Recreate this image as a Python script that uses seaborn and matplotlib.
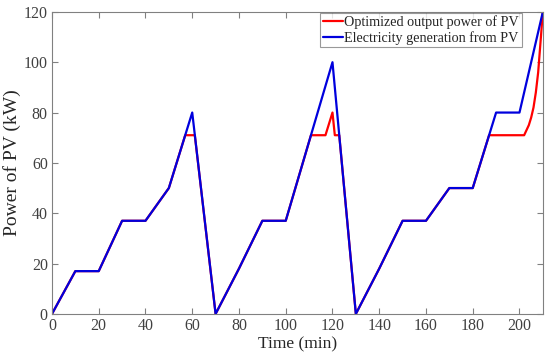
import pandas as pd
import matplotlib
matplotlib.use("Agg")
import matplotlib.pyplot as plt
import seaborn as sns

# PV generation (blue)
gen_time = [0, 10, 20, 30, 40, 50, 60, 70, 80, 90, 100, 120, 130, 140, 150, 160, 170, 180, 190, 200, 210]
gen_power = [0, 17, 17, 37, 37, 50, 80, 0, 18, 37, 37, 100, 0, 18, 37, 37, 50, 50, 80, 80, 120]

# optimized output (red)
opt_time = [0, 10, 20, 30, 40, 50, 57, 61.1, 70, 80, 90, 100, 110.8, 117, 120, 121, 122.9, 130,
            140, 150, 160, 170, 180, 187, 202, 204, 205, 206, 207, 208, 209, 210]
opt_power = [0, 17, 17, 37, 37, 50, 71, 71, 0, 18, 37, 37, 71, 71, 80, 71, 71, 0,
             18, 37, 37, 50, 50, 71, 71, 75, 78, 82, 88, 96, 108, 120]

opt_label = 'Optimized output power of PV'
gen_label = 'Electricity generation from PV'

df_opt = pd.DataFrame({'Time': opt_time, 'Power': opt_power})
df_gen = pd.DataFrame({'Time': gen_time, 'Power': gen_power})

sns.set_style("white")
plt.rcParams['font.family'] = ['Liberation Serif', 'DejaVu Serif']

fig = plt.figure(figsize=(5.5, 3.6), dpi=100)
ax = fig.add_axes([0.0945, 0.128, 0.8925, 0.839])

sns.lineplot(data=df_opt, x='Time', y='Power', color='#ff0000', linewidth=1.6,
             estimator=None, label=opt_label, ax=ax)
sns.lineplot(data=df_gen, x='Time', y='Power', color='#0000dd', linewidth=1.6,
             estimator=None, label=gen_label, ax=ax)

ax.set_xlim(0, 210)
ax.set_ylim(0, 120)
ax.set_xticks(range(0, 201, 20))
ax.set_yticks(range(0, 121, 20))
ax.set_xlabel('Time (min)', fontsize=12.5, color='#262626', labelpad=2)
ax.set_ylabel('Power of PV (kW)', fontsize=14, color='#262626', labelpad=2)
ax.tick_params(direction='in', length=4, width=0.8, color='#808080',
               labelsize=11.5, labelcolor='#404040', top=True, right=True,
               bottom=True, left=True, pad=3)
for s in ax.spines.values():
    s.set_color('#808080')
    s.set_linewidth(0.8)

leg = ax.legend(loc='upper right', bbox_to_anchor=(0.957, 0.997), fontsize=10.2,
                frameon=True, fancybox=False, borderpad=0.2, handlelength=1.4,
                handletextpad=0.1, labelspacing=0.1, borderaxespad=0)
leg.get_frame().set_edgecolor('#808080')
leg.get_frame().set_linewidth(0.8)

fig.savefig('out.png', dpi=100)
